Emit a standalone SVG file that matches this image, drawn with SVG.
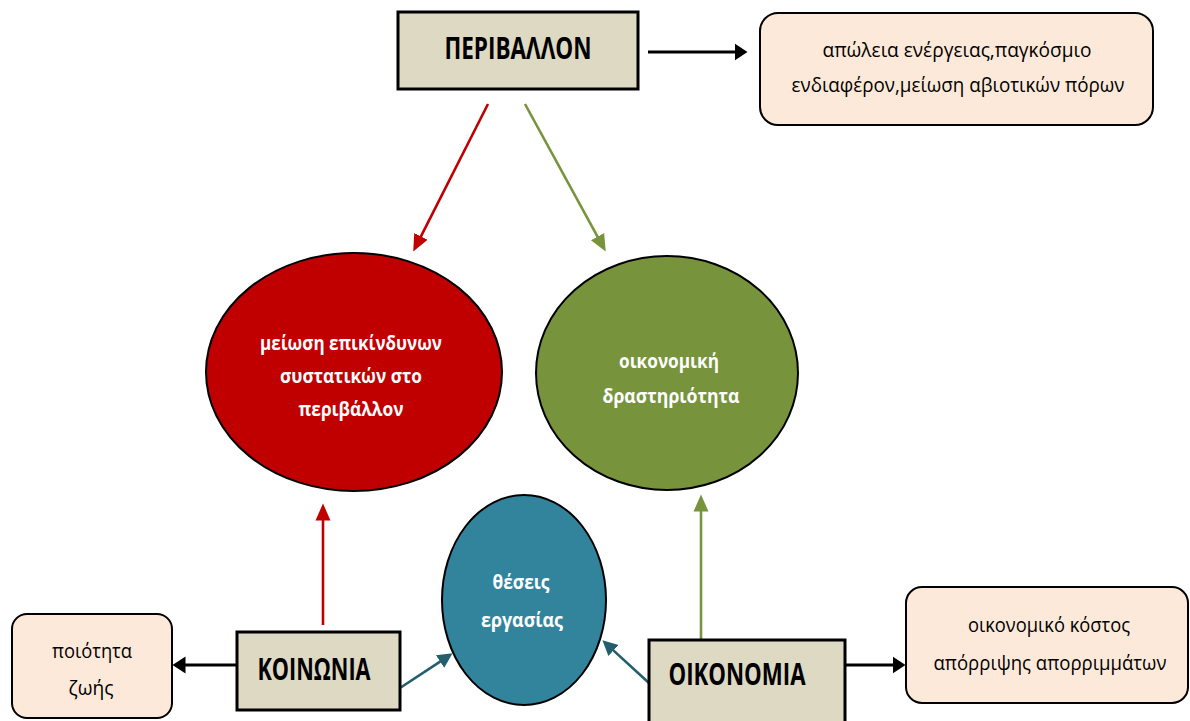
<svg xmlns="http://www.w3.org/2000/svg" width="1190" height="721" viewBox="0 0 1190 721">
  <style>
    .hub { fill: #DDD9C3; stroke: #000; stroke-width: 3; }
    .note { fill: #FDE9D9; stroke: #000; stroke-width: 2; }
    .bubble { stroke: #000; stroke-width: 2; }
    .hub-text { font-family: "Open Sans", "Noto Sans", sans-serif; font-weight: bold; font-size: 31px; fill: #000; text-anchor: middle; }
    .note-text { font-family: "Open Sans", "Noto Sans", sans-serif; font-size: 20px; fill: #000; text-anchor: middle; }
    .bubble-text { font-family: "Open Sans", "Noto Sans", sans-serif; font-weight: bold; font-size: 20px; fill: #fff; text-anchor: middle; }
    .link { fill: none; stroke-width: 2.6; stroke-linecap: butt; }
    .black { stroke: #000; stroke-width: 3; }
    .red { stroke: #C00000; }
    .green { stroke: #77933C; }
    .teal { stroke: #235E6F; }
  </style>
  <defs>
    <marker id="head-black" markerUnits="userSpaceOnUse" markerWidth="14" markerHeight="20" viewBox="0 -10 14 20" refX="0.5" refY="0" orient="auto">
      <path d="M0,-8.5 L13,0 L0,8.5 Z" fill="#000"/>
    </marker>
    <marker id="head-red" markerUnits="userSpaceOnUse" markerWidth="18" markerHeight="18" viewBox="0 -9 18 18" refX="0.5" refY="0" orient="auto">
      <path d="M0,-7.5 L17,0 L0,7.5 Z" fill="#C00000"/>
    </marker>
    <marker id="head-green" markerUnits="userSpaceOnUse" markerWidth="18" markerHeight="18" viewBox="0 -9 18 18" refX="0.5" refY="0" orient="auto">
      <path d="M0,-7.5 L17,0 L0,7.5 Z" fill="#77933C"/>
    </marker>
    <marker id="head-teal" markerUnits="userSpaceOnUse" markerWidth="16" markerHeight="18" viewBox="0 -9 16 18" refX="0.5" refY="0" orient="auto">
      <path d="M0,-7.5 L15,0 L0,7.5 Z" fill="#235E6F"/>
    </marker>
  </defs>

  <rect width="1190" height="721" fill="#fff"/>

  <!-- connectors -->
  <g id="connectors">
    <line class="link black" x1="648" y1="52" x2="735" y2="52" marker-end="url(#head-black)"/>
    <line class="link black" x1="237" y1="665" x2="185" y2="665" marker-end="url(#head-black)"/>
    <line class="link black" x1="845" y1="665" x2="893" y2="665" marker-end="url(#head-black)"/>
    <line class="link red" x1="488" y1="104" x2="420.7" y2="236.8" marker-end="url(#head-red)"/>
    <line class="link green" x1="525" y1="104" x2="597.8" y2="237.1" marker-end="url(#head-green)"/>
    <line class="link red" x1="323" y1="625" x2="323" y2="520" marker-end="url(#head-red)"/>
    <line class="link green" x1="701" y1="640" x2="701" y2="511" marker-end="url(#head-green)"/>
    <line class="link teal" x1="400" y1="688" x2="440.5" y2="661.3" marker-end="url(#head-teal)"/>
    <line class="link teal" x1="649" y1="683" x2="613.1" y2="650.1" marker-end="url(#head-teal)"/>
  </g>

  <!-- environment -->
  <g id="node-perivallon">
    <rect class="hub" x="398" y="12" width="240" height="77"/>
    <text class="hub-text" x="518" y="59" textLength="147" lengthAdjust="spacingAndGlyphs">ΠΕΡΙΒΑΛΛΟΝ</text>
  </g>

  <g id="node-energy-loss">
    <rect class="note" x="760" y="13" width="393" height="112" rx="18"/>
    <text class="note-text" x="957" y="57" textLength="269" lengthAdjust="spacingAndGlyphs">απώλεια ενέργειας,παγκόσμιο</text>
    <text class="note-text" x="958" y="92" textLength="333" lengthAdjust="spacingAndGlyphs">ενδιαφέρον,μείωση αβιοτικών πόρων</text>
  </g>

  <g id="node-hazard-reduction">
    <ellipse class="bubble" cx="354" cy="372" rx="148" ry="119" fill="#C00000"/>
    <text class="bubble-text" x="351" y="350" textLength="182" lengthAdjust="spacingAndGlyphs">μείωση επικίνδυνων</text>
    <text class="bubble-text" x="351" y="383" textLength="142" lengthAdjust="spacingAndGlyphs">συστατικών στο</text>
    <text class="bubble-text" x="351" y="416" textLength="105" lengthAdjust="spacingAndGlyphs">περιβάλλον</text>
  </g>

  <g id="node-economic-activity">
    <ellipse class="bubble" cx="667" cy="373" rx="131" ry="117" fill="#77933C"/>
    <text class="bubble-text" x="669" y="368" textLength="100" lengthAdjust="spacingAndGlyphs">οικονομική</text>
    <text class="bubble-text" x="671" y="403" textLength="137" lengthAdjust="spacingAndGlyphs">δραστηριότητα</text>
  </g>

  <g id="node-jobs">
    <ellipse class="bubble" cx="524" cy="600" rx="82" ry="105" fill="#31849B"/>
    <text class="bubble-text" x="521" y="589" textLength="57" lengthAdjust="spacingAndGlyphs">θέσεις</text>
    <text class="bubble-text" x="522" y="627" textLength="82" lengthAdjust="spacingAndGlyphs">εργασίας</text>
  </g>

  <g id="node-quality-of-life">
    <rect class="note" x="12" y="614" width="160" height="104" rx="15"/>
    <text class="note-text" x="92" y="658" textLength="80" lengthAdjust="spacingAndGlyphs">ποιότητα</text>
    <text class="note-text" x="91" y="695" textLength="45" lengthAdjust="spacingAndGlyphs">ζωής</text>
  </g>

  <g id="node-koinonia">
    <rect class="hub" x="237" y="632" width="163" height="78"/>
    <text class="hub-text" x="314" y="680" textLength="113" lengthAdjust="spacingAndGlyphs">ΚΟΙΝΩΝΙΑ</text>
  </g>

  <g id="node-oikonomia">
    <rect class="hub" x="649" y="640" width="196" height="86"/>
    <text class="hub-text" x="737" y="685" textLength="137" lengthAdjust="spacingAndGlyphs">ΟΙΚΟΝΟΜΙΑ</text>
  </g>

  <g id="node-disposal-cost">
    <rect class="note" x="906" y="587" width="282" height="116" rx="16"/>
    <text class="note-text" x="1049" y="632" textLength="162" lengthAdjust="spacingAndGlyphs">οικονομικό κόστος</text>
    <text class="note-text" x="1050" y="670" textLength="233" lengthAdjust="spacingAndGlyphs">απόρριψης απορριμμάτων</text>
  </g>
</svg>
